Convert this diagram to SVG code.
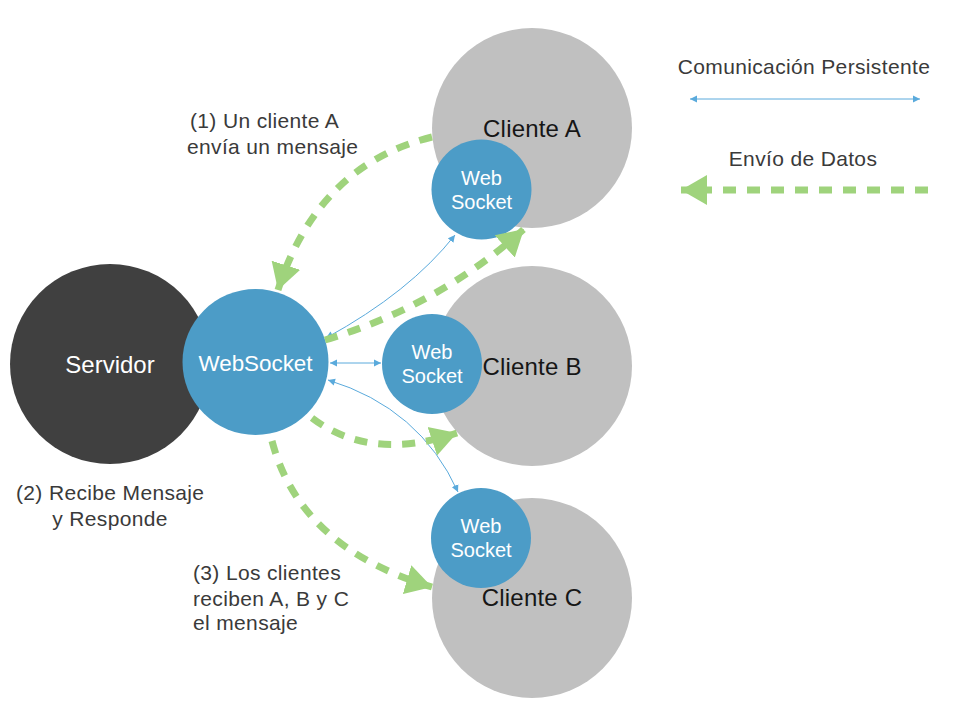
<svg xmlns="http://www.w3.org/2000/svg" width="956" height="720" viewBox="0 0 956 720">
<defs>
<style>
.lbl{font-family:"Liberation Sans",Arial,sans-serif;font-size:21px;letter-spacing:0.35px;fill:#3a3a3a}
.cli{font-family:"Liberation Sans",Arial,sans-serif;font-size:24px;letter-spacing:0.2px;fill:#161616;text-anchor:middle}
.wht{font-family:"Liberation Sans",Arial,sans-serif;fill:#fff;text-anchor:middle}
.gray{fill:#c0c0c0}
.ws{fill:#4c9cc7}
.data{fill:none;stroke:#9fd37c;stroke-width:7;stroke-dasharray:13 11;marker-end:url(#ga)}
.pers{fill:none;stroke:#5aaadc;stroke-width:1;marker-start:url(#bs);marker-end:url(#be)}
</style>
<marker id="ga" markerUnits="userSpaceOnUse" markerWidth="30" markerHeight="32" refX="26" refY="15" orient="auto" viewBox="0 0 30 30">
<path d="M0,0 L26,15 L0,30 Z" fill="#9fd37c"/>
</marker>
<marker id="be" markerUnits="userSpaceOnUse" markerWidth="8" markerHeight="8" refX="7" refY="3.5" orient="auto" viewBox="0 0 8 7">
<path d="M0,0 L7,3.5 L0,7 Z" fill="#5aaadc"/>
</marker>
<marker id="bs" markerUnits="userSpaceOnUse" markerWidth="8" markerHeight="8" refX="0" refY="3.5" orient="auto" viewBox="0 0 8 7">
<path d="M7,0 L0,3.5 L7,7 Z" fill="#5aaadc"/>
</marker>
</defs>
<g id="servidor">
<circle cx="110" cy="364" r="100" fill="#404040"/>
<text class="wht" x="110" y="373" font-size="24">Servidor</text>
</g>
<g id="websocket">
<circle cx="255.5" cy="362" r="73" class="ws"/>
<text class="wht" x="255.5" y="371" font-size="22.4">WebSocket</text>
</g>
<g id="clienteA">
<circle cx="532" cy="128" r="100" class="gray"/>
<text class="cli" x="532" y="137">Cliente A</text>
</g>
<g id="clienteB">
<circle cx="532" cy="366" r="100" class="gray"/>
<text class="cli" x="532" y="375">Cliente B</text>
</g>
<g id="clienteC">
<circle cx="532" cy="598" r="100" class="gray"/>
<text class="cli" x="532" y="606">Cliente C</text>
</g>
<g id="wsA">
<circle cx="481.5" cy="189.5" r="50" class="ws"/>
<text class="wht" x="481.5" y="185" font-size="20">Web</text>
<text class="wht" x="481.5" y="209" font-size="20">Socket</text>
</g>
<g id="wsB">
<circle cx="432" cy="364" r="50" class="ws"/>
<text class="wht" x="432" y="359" font-size="20">Web</text>
<text class="wht" x="432" y="383" font-size="20">Socket</text>
</g>
<g id="wsC">
<circle cx="481" cy="538" r="50" class="ws"/>
<text class="wht" x="481" y="533" font-size="20">Web</text>
<text class="wht" x="481" y="557" font-size="20">Socket</text>
</g>
<g id="connectors">
<path class="pers" d="M326,338 Q410,292 455,235"/>
<path class="pers" d="M330,363 L381,363"/>
<path class="pers" d="M328,380 Q420,408 458,492"/>
<path class="data" d="M432,137 Q318,165 278,290"/>
<path class="data" d="M325,340 Q440,305 524,229"/>
<path class="data" d="M312,418 Q370,462 457,433"/>
<path class="data" d="M272,441 Q300,548 432,587"/>
<path class="pers" d="M690,99 L920,99"/>
<path class="data" d="M928,190 L681,190"/>
</g>
<g id="labels">
<text class="lbl" x="804" y="74" text-anchor="middle">Comunicación Persistente</text>
<text class="lbl" x="803" y="166" text-anchor="middle">Envío de Datos</text>
<text class="lbl" x="190" y="128">(1) Un cliente A</text>
<text class="lbl" x="187" y="154">envía un mensaje</text>
<text class="lbl" x="16" y="500">(2) Recibe Mensaje</text>
<text class="lbl" x="110" y="526" text-anchor="middle">y Responde</text>
<text class="lbl" x="193" y="580">(3) Los clientes</text>
<text class="lbl" x="193" y="606">reciben A, B y C</text>
<text class="lbl" x="193" y="630">el mensaje</text>
</g>
</svg>
